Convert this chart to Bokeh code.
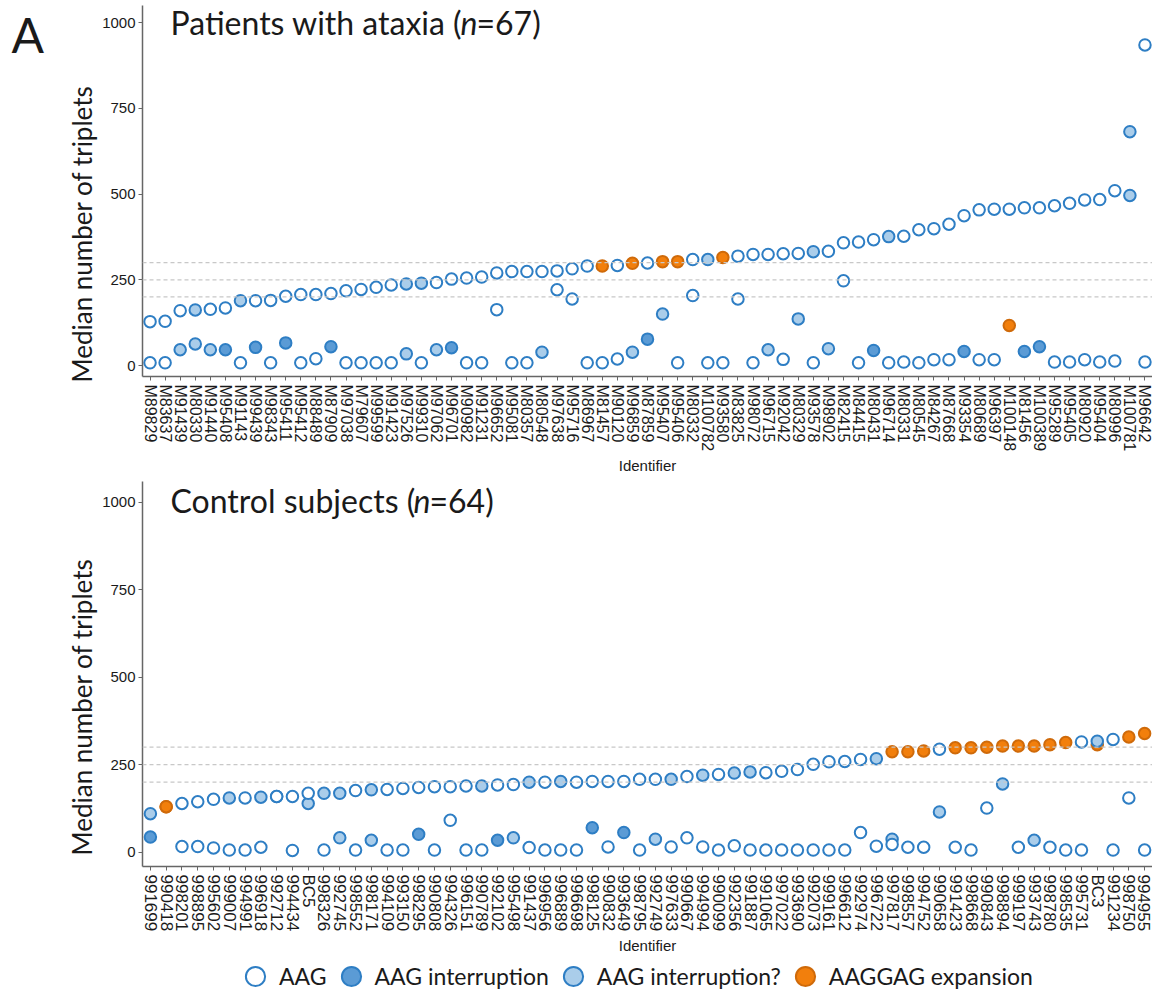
import math
from bokeh.plotting import figure
from bokeh.models import (ColumnDataSource, FactorRange, Range1d, Span, Label, Title,
                          Legend, LegendItem, FixedTicker)
from bokeh.layouts import column, row
from bokeh.embed import file_html
from bokeh.resources import INLINE

# ---------------- data ----------------
ataxia_ids = ["M89829", "M83637", "M91439", "M80330", "M91440", "M95408", "M91143", "M99439",
              "M98343", "M95411", "M95412", "M88489", "M87909", "M97038", "M79607", "M99599",
              "M91423", "M97526", "M99310", "M97062", "M96701", "M90982", "M91231", "M96652",
              "M95081", "M80357", "M80548", "M97638", "M95716", "M86967", "M81457", "M90120",
              "M96859", "M87859", "M95407", "M95406", "M80332", "M100782", "M93580", "M83825",
              "M98072", "M96715", "M92042", "M80329", "M93578", "M98902", "M82415", "M84415",
              "M80431", "M96714", "M80331", "M80545", "M84267", "M87668", "M93354", "M80689",
              "M96397", "M100148", "M81456", "M100389", "M95289", "M95405", "M80920", "M95404",
              "M80996", "M100781", "M96642"]
ataxia_allele1 = [128, 129, 160, 162, 164, 168, 189, 189, 190, 202, 207, 207, 210, 218, 222, 228,
                  235, 238, 240, 242, 252, 255, 258, 270, 274, 274, 274, 276, 282, 290, 290, 292,
                  298, 299, 303, 303, 309, 309, 315, 319, 324, 324, 326, 327, 332, 333, 358, 360,
                  367, 376, 377, 396, 399, 412, 437, 454, 456, 456, 460, 460, 466, 473, 483, 484,
                  510, 682, 935]
ataxia_type1 = ["o", "o", "o", "l", "o", "o", "l", "o", "o", "o", "o", "o", "o", "o", "o", "o",
                "o", "l", "l", "o", "o", "o", "o", "o", "o", "o", "o", "o", "o", "o", "x", "o",
                "x", "o", "x", "x", "o", "l", "x", "o", "o", "o", "o", "o", "l", "o", "o", "o",
                "o", "l", "o", "o", "o", "o", "o", "o", "o", "o", "o", "o", "o", "o", "o", "o",
                "o", "l", "o"]
ataxia_allele2 = [8, 8, 46, 63, 46, 46, 8, 53, 8, 66, 8, 20, 55, 8, 8, 8,
                  8, 34, 8, 46, 52, 8, 8, 163, 8, 8, 39, 221, 194, 8, 8, 19,
                  39, 77, 150, 8, 204, 8, 8, 194, 8, 46, 18, 136, 8, 49, 247, 8,
                  44, 8, 10, 8, 17, 17, 41, 17, 17, 117, 41, 55, 10, 10, 17, 10,
                  13, 496, 10]
ataxia_type2 = ["o", "o", "l", "l", "l", "d", "o", "d", "o", "d", "o", "o", "d", "o", "o", "o",
                "o", "l", "o", "l", "d", "o", "o", "o", "o", "o", "l", "o", "o", "o", "o", "o",
                "l", "d", "l", "o", "o", "o", "o", "o", "o", "l", "o", "l", "o", "l", "o", "o",
                "d", "o", "o", "o", "o", "o", "d", "o", "o", "x", "d", "d", "o", "o", "o", "o",
                "o", "l", "o"]

control_ids = ["991699", "990418", "998201", "998895", "995602", "999007", "994991", "996918",
               "992712", "994434", "BC5", "998326", "992745", "998552", "998171", "994109",
               "993150", "998295", "990808", "994326", "996151", "990789", "992102", "995498",
               "991437", "996956", "996889", "996698", "998125", "990832", "993649", "998795",
               "992749", "997633", "990667", "994994", "990099", "992356", "991887", "991065",
               "997022", "993690", "992073", "999161", "996612", "992974", "996722", "997817",
               "998557", "994752", "990658", "991423", "998668", "990843", "998894", "999197",
               "993743", "998780", "998535", "995731", "BC3", "991234", "998750", "994955"]
control_allele1 = [110, 130, 139, 144, 151, 155, 155, 157, 159, 159, 168, 168, 168, 176, 178, 179,
                   182, 185, 187, 187, 189, 189, 192, 193, 200, 200, 202, 200, 202, 202, 202, 208,
                   208, 208, 216, 220, 222, 226, 229, 227, 231, 236, 251, 258, 259, 265, 267, 287,
                   287, 289, 294, 298, 298, 300, 303, 303, 303, 307, 313, 315, 317, 322, 329, 339]
control_type1 = ["l", "x", "o", "o", "o", "l", "o", "l", "o", "o", "o", "l", "l", "o", "l", "o",
                 "o", "o", "o", "o", "o", "l", "o", "o", "l", "o", "l", "o", "o", "o", "o", "o",
                 "o", "l", "o", "l", "o", "l", "l", "o", "o", "o", "o", "o", "o", "o", "l", "x",
                 "x", "x", "o", "x", "x", "x", "x", "x", "x", "x", "x", "o", "l", "o", "x", "x"]
control_allele2 = [43, 130, 16, 16, 12, 6, 6, 14, 159, 5, 139, 6, 41, 6, 34, 6,
                   6, 51, 6, 91, 6, 6, 34, 41, 13, 6, 6, 6, 70, 15, 56, 6,
                   37, 15, 41, 15, 6, 18, 6, 6, 6, 6, 6, 6, 6, 56, 17, 37,
                   14, 14, 115, 14, 6, 126, 195, 14, 34, 14, 6, 6, 307, 6, 155, 6]
control_type2 = ["d", "x", "o", "o", "o", "o", "o", "o", "o", "o", "l", "o", "l", "o", "l", "o",
                 "o", "d", "o", "o", "o", "o", "d", "l", "o", "o", "o", "o", "d", "o", "d", "o",
                 "l", "o", "o", "o", "o", "o", "o", "o", "o", "o", "o", "o", "o", "o", "o", "l",
                 "o", "o", "l", "o", "o", "o", "l", "o", "l", "o", "o", "o", "x", "o", "o", "o"]
# a third measured allele
control_extra_ids = ["997817"]
control_extra_vals = [22]
control_extra_types = ["o"]

type_labels = {"o": "AAG", "d": "AAG interruption", "l": "AAG interruption?", "x": "AAGGAG expansion"}
y_ticks = [0, 250, 500, 750, 1000]
ref_lines = [200, 250, 300]

# ---------------- style ----------------
BLUE = "#2e7ec4"
STYLES = {
    "o": ("#ffffff", BLUE),
    "d": ("#5b9bd5", BLUE),
    "l": ("#aacdea", BLUE),
    "x": ("#f27f0c", "#cf6a0a"),
}
DRAW_ORDER = ["x", "l", "d", "o"]
AXIS_COLOR = "#666666"
TICK_FONT = "Liberation Sans"
TEXT_FONT = "Lato"
TXT = "#1a1a1a"


def split_sources(ids, a1, t1, a2, t2, ex_ids, ex_vals, ex_types):
    xs = list(ids) + list(ids) + list(ex_ids)
    ys = list(a1) + list(a2) + list(ex_vals)
    ts = list(t1) + list(t2) + list(ex_types)
    out = {}
    for t in DRAW_ORDER:
        sel = [i for i, tt in enumerate(ts) if tt == t]
        out[t] = ColumnDataSource(dict(x=[xs[i] for i in sel], y=[ys[i] for i in sel]))
    return out


def make_panel(ids, sources, ylo, yhi, width, height,
               border_left, border_top, border_bottom, label_size, title_parts, title_x,
               title_y, ylabel_offset):
    p = figure(width=width, height=height, x_range=FactorRange(factors=ids),
               y_range=Range1d(ylo, yhi), output_backend="svg", toolbar_location=None,
               min_border_left=border_left, min_border_right=0, min_border_top=border_top,
               min_border_bottom=border_bottom, outline_line_color=None,
               background_fill_color="white", border_fill_color="white")
    p.xgrid.visible = False
    p.ygrid.visible = False
    for v in ref_lines:
        p.add_layout(Span(location=v, dimension="width", line_color="#c8c8c8",
                          line_dash="4 3", line_width=1.3))
    for t in DRAW_ORDER:
        fill, line = STYLES[t]
        p.scatter("x", "y", source=sources[t], size=11.5, fill_color=fill,
                  line_color=line, line_width=2)

    # axes
    for ax in (p.xaxis[0], p.yaxis[0]):
        ax.axis_line_color = AXIS_COLOR
        ax.axis_line_width = 1.5
        ax.major_tick_line_color = AXIS_COLOR
        ax.major_tick_out = 4
        ax.major_tick_in = 0
        ax.minor_tick_line_color = None
        ax.major_label_text_font = TICK_FONT
        ax.major_label_text_color = TXT
    p.xaxis.major_label_orientation = "vertical"
    p.xaxis.major_label_text_font_size = label_size
    p.xaxis.major_label_standoff = 4
    p.xaxis.axis_label = "Identifier"
    p.xaxis.axis_label_text_font = TICK_FONT
    p.xaxis.axis_label_text_font_style = "normal"
    p.xaxis.axis_label_text_font_size = "15px"
    p.xaxis.axis_label_text_color = TXT
    p.xaxis.axis_label_standoff = 3
    p.yaxis.ticker = FixedTicker(ticks=y_ticks)
    p.yaxis.major_label_text_font_size = "15px"
    p.yaxis.major_label_standoff = 3

    # y label as a left-side title
    p.add_layout(Title(text="Median number of triplets", align="left", offset=ylabel_offset,
                       text_font=TEXT_FONT, text_font_style="normal", text_font_size="26px",
                       text_color=TXT, standoff=4), "left")
    # panel title (with italic n)
    for (txt, style), xx in zip(title_parts, title_x):
        p.add_layout(Label(x=xx, y=title_y, x_units="screen", y_units="data", text=txt,
                           text_align="left", text_baseline="middle", text_font=TEXT_FONT,
                           text_font_style=style, text_font_size="32px", text_color=TXT))
    return p


ataxia_src = split_sources(ataxia_ids, ataxia_allele1, ataxia_type1, ataxia_allele2,
                           ataxia_type2, [], [], [])
control_src = split_sources(control_ids, control_allele1, control_type1, control_allele2,
                            control_type2, control_extra_ids, control_extra_vals,
                            control_extra_types)

top = make_panel(ataxia_ids, ataxia_src, -32, 1050, 1092, 481, 82, 5, 105, "16px",
                 [("Patients with ataxia (", "normal"), ("n", "italic"), ("=67)", "normal")],
                 [28, 318, 334], 1000, -6)
bottom = make_panel(control_ids, control_src, -41, 1059, 1152, 477, 142, 0, 92, "17px",
                    [("Control subjects (", "normal"), ("n", "italic"), ("=64)", "normal")],
                    [28, 271, 287], 1005, 11)

# legend strip: renderers share the control data; the strip's y window shows none of it
lg = figure(width=1152, height=36, output_backend="svg", toolbar_location=None,
            x_range=FactorRange(factors=control_ids), y_range=Range1d(-2000, -1900),
            x_axis_location=None, y_axis_location=None,
            min_border_left=0, min_border_right=0, min_border_top=0, min_border_bottom=0,
            outline_line_color=None)
lg.grid.visible = False
lrend = {}
for t in DRAW_ORDER:
    fill, line = STYLES[t]
    lrend[t] = lg.scatter("x", "y", source=control_src[t], size=11.5, fill_color=fill,
                          line_color=line, line_width=2)
items = [LegendItem(label=type_labels[t], renderers=[lrend[t]]) for t in ["o", "d", "l", "x"]]
legend = Legend(items=items, orientation="horizontal", location=(89, -6),
                glyph_width=48, glyph_height=48, label_standoff=0, spacing=0,
                padding=0, margin=0, border_line_color=None, background_fill_alpha=0,
                label_text_font=TEXT_FONT, label_text_font_size="23px",
                label_text_color=TXT)
lg.add_layout(legend, "center")

# panel letter
letter = figure(width=60, height=481, output_backend="svg", toolbar_location=None,
                x_range=Range1d(0, 60), y_range=Range1d(0, 481),
                x_axis_location=None, y_axis_location=None,
                min_border_left=0, min_border_right=0, min_border_top=0, min_border_bottom=0,
                outline_line_color=None)
letter.grid.visible = False
letter.add_layout(Label(x=11, y=444, x_units="data", y_units="data", text="A",
                        text_align="left", text_baseline="middle", text_font=TEXT_FONT,
                        text_font_size="48px", text_color=TXT))

layout = column(row(letter, top, spacing=0), bottom, lg, spacing=0)
open("out.html", "w").write(file_html(layout, INLINE))
